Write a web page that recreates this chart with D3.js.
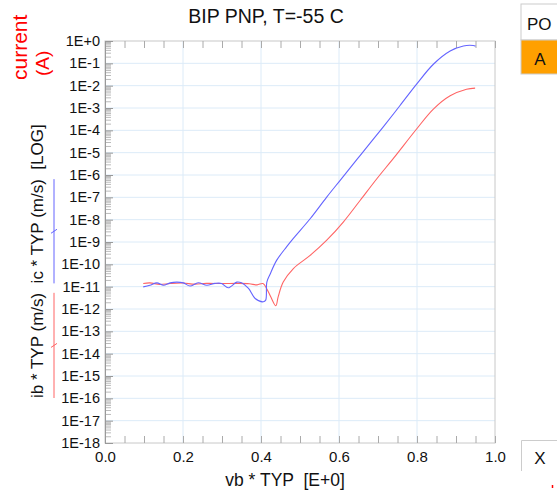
<!DOCTYPE html>
<meta charset="utf-8">
<script src="https://d3js.org/d3.v7.min.js"></script>
<style>
  body { margin: 0; background: #fff; }
  text { font-family: "Liberation Sans", Arial, sans-serif; white-space: pre; }
</style>
<div id="chart"></div>
<script>

// ic (blue) : vb sweep and collector current (A)
var icVb = [0.098, 0.115, 0.133, 0.150, 0.167, 0.184, 0.201, 0.218, 0.239, 0.261, 0.282, 0.299,
            0.316, 0.338, 0.350, 0.368, 0.385, 0.406, 0.412, 0.415, 0.423, 0.440, 0.466, 0.483,
            0.526, 0.568, 0.603, 0.654, 0.713, 0.756, 0.799, 0.842, 0.885, 0.919, 0.944, 0.950]
var icVal = [9.8e-12, 1.15e-11, 1.48e-11, 1.15e-11, 1.48e-11, 1.6e-11, 1.48e-11, 1.07e-11, 1.5e-11, 1.15e-11, 1.4e-11, 1.4e-11,
             8.9e-12, 1.6e-11, 1.48e-11, 8.3e-12, 2.95e-12, 2.1e-12, 2.5e-12, 1.6e-11, 3.5e-11, 1.5e-10, 6.2e-10, 1.45e-9,
             1.1e-8, 1.0e-7, 5.8e-7, 7.4e-6, 1.4e-4, 1.26e-3, 1.17e-2, 9.1e-2, 0.355, 0.6, 0.63, 0.59]

// ib (red) : vb sweep and base current (A)
var ibVb = [0.098, 0.115, 0.140, 0.167, 0.200, 0.230, 0.260, 0.300, 0.340, 0.370, 0.390, 0.405,
            0.415, 0.425, 0.438, 0.444, 0.457, 0.483, 0.526, 0.568, 0.611, 0.654, 0.697, 0.741,
            0.799, 0.842, 0.885, 0.927, 0.949]
var ibVal = [1.38e-11, 1.48e-11, 1.26e-11, 1.38e-11, 1.45e-11, 1.3e-11, 1.4e-11, 1.38e-11, 1.4e-11, 1.35e-11, 1.2e-11, 1.38e-11,
             7.9e-12, 3.5e-12, 1.4e-12, 3.5e-12, 1.6e-11, 6.5e-11, 2.5e-10, 1.17e-9, 7.8e-9, 7.2e-8, 6.8e-7, 6.0e-6,
             1.15e-4, 8.9e-4, 3.5e-3, 6.9e-3, 7.8e-3]

var xTicks = [0, 0.2, 0.4, 0.6, 0.8, 1.0]
var yDecades = d3.range(0, -19, -1).map(function(e) { return Math.pow(10, e) })

var width = 557, height = 490
var plotLeft = 105, plotRight = 495, plotTop = 41, plotBottom = 443

var svg = d3.select("#chart").append("svg")
    .attr("width", width)
    .attr("height", height)

var x = d3.scaleLinear().domain([0, 1]).range([plotLeft, plotRight])
var y = d3.scaleLog().domain([1, 1e-18]).range([plotTop, plotBottom])

// grid
svg.append("g").selectAll("line")
  .data(yDecades.slice(1, -1))
  .enter().append("line")
    .attr("x1", plotLeft).attr("x2", plotRight)
    .attr("y1", function(d) { return y(d) }).attr("y2", function(d) { return y(d) })
    .attr("stroke", "#dcebf8")
svg.append("g").selectAll("line")
  .data(xTicks.slice(1, -1))
  .enter().append("line")
    .attr("x1", function(d) { return x(d) }).attr("x2", function(d) { return x(d) })
    .attr("y1", plotTop).attr("y2", plotBottom)
    .attr("stroke", "#dcebf8")

// frame
svg.append("rect")
  .attr("x", plotLeft).attr("y", plotTop)
  .attr("width", plotRight - plotLeft).attr("height", plotBottom - plotTop)
  .attr("fill", "none").attr("stroke", "#c8c8c8")

// minor ticks on x (every 0.05), top and bottom, pointing inside
var xMinor = d3.range(0, 21).map(function(i) { return i * 0.05 })
svg.append("g")
  .attr("transform", "translate(0," + plotBottom + ")")
  .call(d3.axisTop(x).tickValues(xMinor).tickSize(7).tickFormat(""))
  .call(function(g) { g.select(".domain").remove(); g.selectAll("line").attr("stroke", "#aaa") })
svg.append("g")
  .attr("transform", "translate(0," + plotTop + ")")
  .call(d3.axisBottom(x).tickValues(xMinor).tickSize(7).tickFormat(""))
  .call(function(g) { g.select(".domain").remove(); g.selectAll("line").attr("stroke", "#aaa") })

// log ticks on y, pointing inside
var yMinor = []
yDecades.forEach(function(d) {
  for (var k = 2; k <= 9; k++) { if (d * k <= 1) yMinor.push(d * k) }
})
svg.append("g")
  .attr("transform", "translate(" + plotLeft + ",0)")
  .call(d3.axisRight(y).tickValues(yMinor).tickSize(6).tickFormat(""))
  .call(function(g) { g.select(".domain").remove(); g.selectAll("line").attr("stroke", "#bbb") })
svg.append("g")
  .attr("transform", "translate(" + plotLeft + ",0)")
  .call(d3.axisRight(y).tickValues(yDecades).tickSize(8).tickFormat(""))
  .call(function(g) { g.select(".domain").attr("stroke", "#999"); g.selectAll("line").attr("stroke", "#999") })

// y labels
svg.append("g")
  .attr("transform", "translate(" + plotLeft + ",0)")
  .call(d3.axisLeft(y).tickValues(yDecades).tickSize(0).tickPadding(5)
    .tickFormat(function(d) {
      var e = Math.round(Math.log10(d))
      return "1E" + (e >= 0 ? "+" + e : e)
    }))
  .call(function(g) {
    g.select(".domain").remove()
    g.selectAll("text").attr("fill", "#111")
      .style("font-size", "14.5px")
      .style("font-family", "'Liberation Sans', Arial, sans-serif")
  })

// x labels
svg.append("g")
  .attr("transform", "translate(0," + plotBottom + ")")
  .call(d3.axisBottom(x).tickValues(xTicks).tickSize(0).tickPadding(8)
    .tickFormat(d3.format(".1f")))
  .call(function(g) {
    g.select(".domain").remove()
    g.selectAll("text").attr("fill", "#111")
      .style("font-size", "15px")
      .style("font-family", "'Liberation Sans', Arial, sans-serif")
  })

// curves
var line = d3.line()
  .x(function(d) { return x(d[0]) })
  .y(function(d) { return y(d[1]) })
  .curve(d3.curveCatmullRom.alpha(0.5))

svg.append("path")
  .datum(d3.zip(ibVb, ibVal))
  .attr("d", line)
  .attr("fill", "none").attr("stroke", "#ff6464").attr("stroke-width", 1.1)
svg.append("path")
  .datum(d3.zip(icVb, icVal))
  .attr("d", line)
  .attr("fill", "none").attr("stroke", "#6464ff").attr("stroke-width", 1.1)

// title
svg.append("text")
  .attr("x", 266).attr("y", 23)
  .attr("text-anchor", "middle")
  .style("font-size", "19.5px")
  .attr("fill", "#111")
  .text("BIP PNP, T=-55 C")

// x title
svg.append("text")
  .attr("x", 285).attr("y", 486)
  .attr("text-anchor", "middle")
  .style("font-size", "17.5px")
  .attr("fill", "#111")
  .text("vb * TYP  [E+0]")

// y title with series markers
var yt = svg.append("text")
  .attr("transform", "translate(43,398) rotate(-90)")
  .style("font-size", "17px")
  .attr("fill", "#111")
  .text("ib * TYP (m/s)  ic * TYP (m/s)  [LOG]")
var node = yt.node()
var ibLen = node.getSubStringLength(0, 14)
var icStart = node.getSubStringLength(0, 16)
var icLen = node.getSubStringLength(16, 14)

function marker(y0, len, color) {
  var g = svg.append("g").attr("stroke", color).attr("stroke-width", 1)
  g.append("line").attr("x1", 54).attr("x2", 54).attr("y1", y0).attr("y2", y0 - len)
  var ym = y0 - len / 2
  g.append("line").attr("x1", 51).attr("x2", 57).attr("y1", ym + 2).attr("y2", ym - 2)
}
marker(398, ibLen, "#ff6464")
marker(398 - icStart, icLen, "#6464ff")

// unit label
svg.append("text")
  .attr("transform", "translate(27,80) rotate(-90)")
  .style("font-size", "21px")
  .attr("fill", "#f00")
  .text("current")
svg.append("text")
  .attr("transform", "translate(49,76) rotate(-90)")
  .style("font-size", "19px")
  .attr("fill", "#f00")
  .text("(A)")

// side buttons
svg.append("rect")
  .attr("x", 521).attr("y", 4).attr("width", 40).attr("height", 36)
  .attr("fill", "#fff").attr("stroke", "#ccc")
svg.append("text")
  .attr("x", 527).attr("y", 30)
  .style("font-size", "17px").attr("fill", "#111")
  .text("PO")
svg.append("rect")
  .attr("x", 521).attr("y", 40).attr("width", 40).attr("height", 34)
  .attr("fill", "#ffa000").attr("stroke", "#ccc")
svg.append("text")
  .attr("x", 540).attr("y", 65).attr("text-anchor", "middle")
  .style("font-size", "17px").attr("fill", "#111")
  .text("A")

svg.append("path")
  .attr("d", "M521.5,471V440.5H560")
  .attr("fill", "none").attr("stroke", "#ccc")
svg.append("text")
  .attr("x", 540).attr("y", 464).attr("text-anchor", "middle")
  .style("font-size", "17px").attr("fill", "#111")
  .text("X")
svg.append("line")
  .attr("x1", 552.5).attr("x2", 552.5).attr("y1", 485).attr("y2", 488)
  .attr("stroke", "#f00").attr("stroke-width", 1.5)

</script>
